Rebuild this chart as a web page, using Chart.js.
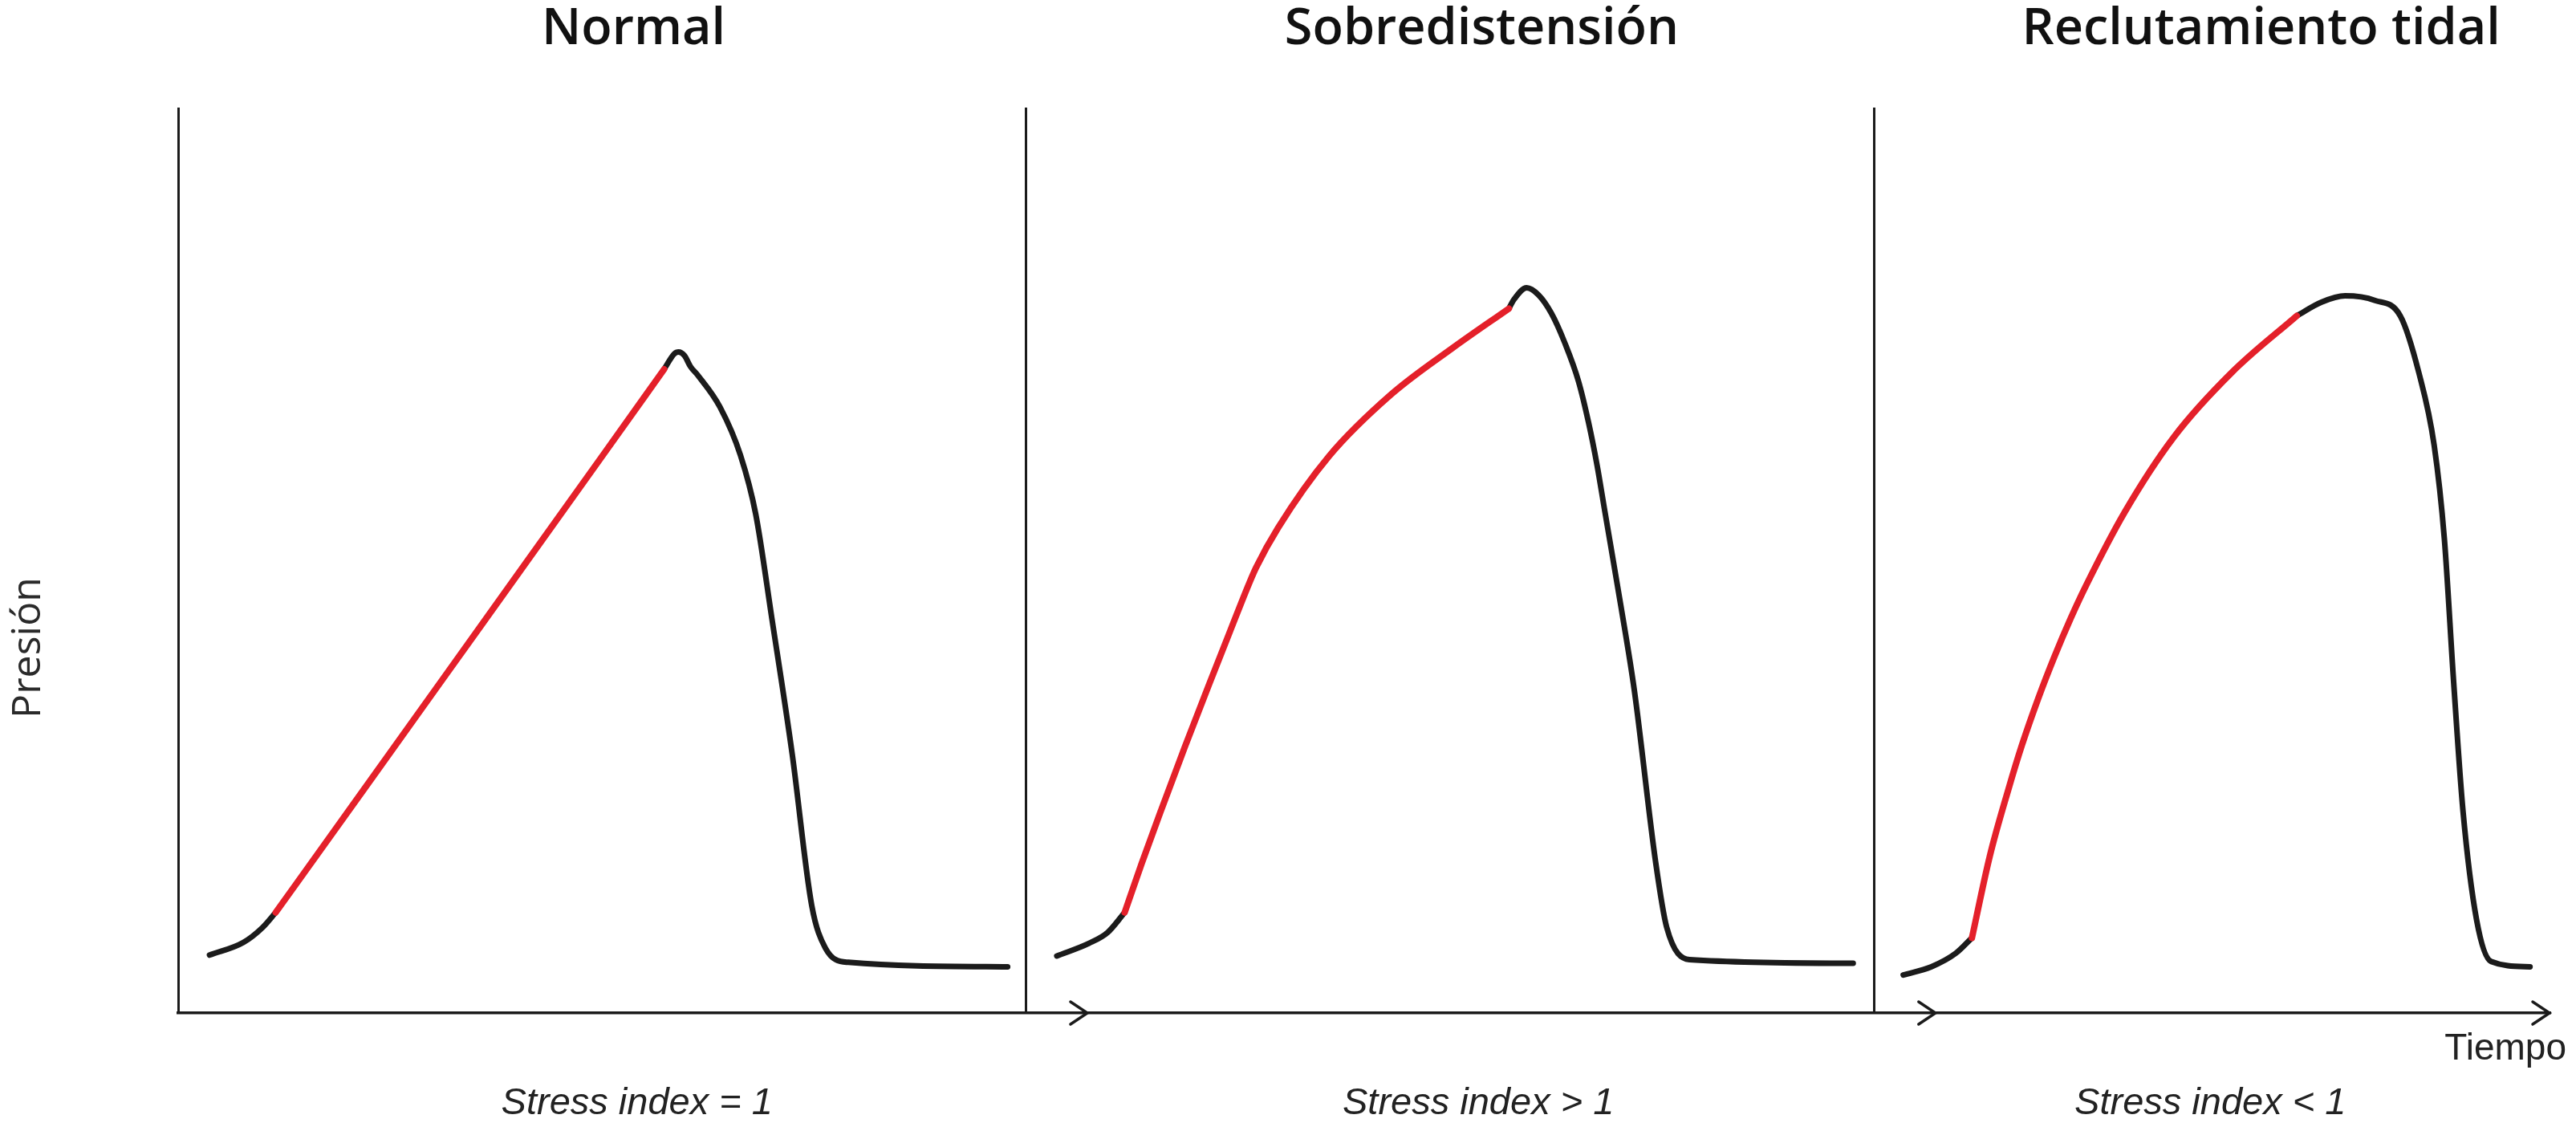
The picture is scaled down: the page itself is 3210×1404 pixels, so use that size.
<!DOCTYPE html>
<html>
<head>
<meta charset="utf-8">
<script src="https://cdn.jsdelivr.net/npm/chart.js@4"></script>
<style>
  html, body { margin: 0; padding: 0; background: #fff; }
  #wrap { width: 3210px; height: 1404px; }
</style>
</head>
<body>
<div id="wrap"><canvas id="stressIndex" width="3210" height="1404"></canvas></div>
<script>
// texts
const panelTitles = ["Normal", "Sobredistensión", "Reclutamiento tidal"];
const stressLabels = ["Stress index = 1", "Stress index > 1", "Stress index < 1"];
const yLabel = "Presión";
const xLabel = "Tiempo";

// time (per panel, 0-100) and pressure (0-100)
const normalTime = [3.7, 7.7, 9.9, 11.5, 21.6, 35.8, 50.0, 57.3, 58.5, 59.0, 59.7, 60.4, 61.3, 63.9, 66.3, 68.1, 70.0, 72.4, 74.7, 76.3, 79.0, 97.8];
const normalPressure = [6.4, 7.8, 9.4, 11.1, 24.3, 42.9, 61.5, 71.1, 72.8, 73.0, 72.6, 71.4, 70.4, 66.9, 61.6, 55.1, 43.6, 28.6, 11.9, 7.2, 5.6, 5.1];
const normalRed = [3, 7];   // first and last point of the red stretch

const overTime = [3.6, 7.4, 9.6, 11.6, 13.6, 15.9, 18.7, 21.6, 24.0, 26.3, 27.1, 29.7, 35.7, 43.0, 50.2, 56.9, 57.5, 59.0, 60.4, 61.9, 63.5, 65.1, 66.3, 67.3, 68.2, 70.1, 71.7, 74.2, 75.5, 78.2, 97.5];
const overPressure = [6.3, 7.7, 8.9, 11.1, 16.5, 22.4, 29.4, 36.4, 42.1, 47.5, 49.2, 53.6, 61.5, 68.3, 73.4, 77.8, 78.8, 80.1, 79.3, 77.3, 74.0, 69.8, 65.2, 60.5, 55.5, 45.0, 35.6, 16.7, 9.5, 5.9, 5.5];
const overRed = [3, 15];

const recruitTime = [3.4, 6.7, 9.6, 11.5, 13.6, 15.8, 17.4, 19.3, 21.2, 23.1, 25.0, 29.5, 35.3, 42.2, 49.8, 52.7, 55.5, 59.0, 62.0, 64.2, 66.0, 67.2, 68.3, 69.4, 71.0, 72.7, 77.3];
const recruitPressure = [4.2, 5.1, 6.6, 8.3, 17.3, 24.7, 29.6, 34.7, 39.3, 43.5, 47.3, 55.3, 63.6, 70.8, 77.0, 78.5, 79.2, 78.7, 77.0, 70.7, 62.7, 52.4, 36.5, 22.3, 10.3, 5.7, 5.1];
const recruitRed = [3, 14];

const panels = [
  { time: normalTime, pressure: normalPressure, red: normalRed },
  { time: overTime, pressure: overPressure, red: overRed },
  { time: recruitTime, pressure: recruitPressure, red: recruitRed },
];

const INK = "#1b1b1b";
const RED = "#e4202a";
const PANEL = 100;           // x units per panel
const X_END = 279.6;         // end of the time arrow
const titleAt = [53.7, 153.7, 245.6];
const stressAt = [54.1, 153.3, 239.6];
const arrowAt = [107.2, 207.2, X_END];

function stretch(p, i, from, to, color, width, order) {
  const pts = [];
  for (let k = from; k <= to; k++) {
    pts.push({ x: i * PANEL + p.time[k], y: p.pressure[k] });
  }
  return {
    data: pts,
    borderColor: color,
    borderWidth: width,
    pointRadius: 0,
    fill: false,
    cubicInterpolationMode: "monotone",
    borderCapStyle: "round",
    borderJoinStyle: "round",
    order: order,
  };
}

const datasets = [];
panels.forEach(function (p, i) {
  const last = p.time.length - 1;
  datasets.push(stretch(p, i, 0, p.red[0], INK, 7, 2));
  datasets.push(stretch(p, i, p.red[1], last, INK, 7, 2));
  datasets.push(stretch(p, i, p.red[0], p.red[1], RED, 8, 1));
});

const decorations = {
  id: "decorations",
  afterDraw: function (chart) {
    const ctx = chart.ctx;
    const xs = chart.scales.x;
    const bottom = chart.chartArea.bottom;
    ctx.save();

    // arrow heads on the time axis
    ctx.strokeStyle = INK;
    ctx.lineWidth = 3.5;
    ctx.lineCap = "round";
    arrowAt.forEach(function (v) {
      const tip = xs.getPixelForValue(v);
      ctx.beginPath();
      ctx.moveTo(tip - 21, bottom - 14);
      ctx.lineTo(tip, bottom);
      ctx.lineTo(tip - 21, bottom + 14);
      ctx.stroke();
    });

    ctx.fillStyle = "#111";
    ctx.textAlign = "center";
    ctx.textBaseline = "alphabetic";
    ctx.font = "600 63px 'Open Sans'";
    panelTitles.forEach(function (t, i) {
      ctx.fillText(t, xs.getPixelForValue(titleAt[i]), 55);
    });

    ctx.fillStyle = "#222";
    ctx.font = "italic 47px 'Liberation Sans'";
    stressLabels.forEach(function (t, i) {
      ctx.fillText(t, xs.getPixelForValue(stressAt[i]), 1388);
    });

    ctx.textAlign = "right";
    ctx.font = "46px 'Liberation Sans'";
    ctx.fillText(xLabel, 3198, 1320);

    ctx.translate(50, 807);
    ctx.rotate(-Math.PI / 2);
    ctx.textAlign = "center";
    ctx.fillStyle = "#2a2a2a";
    ctx.font = "50px 'Open Sans'";
    ctx.fillText(yLabel, 0, 0);
    ctx.restore();
  },
};

new Chart(document.getElementById("stressIndex").getContext("2d"), {
  type: "line",
  data: { datasets: datasets },
  options: {
    responsive: false,
    devicePixelRatio: 1,
    animation: false,
    layout: { padding: { left: 222, right: 33, top: 134, bottom: 142 } },
    plugins: {
      legend: { display: false },
      tooltip: { enabled: false },
    },
    scales: {
      x: {
        type: "linear",
        min: 0,
        max: X_END,
        afterBuildTicks: function (axis) {
          axis.ticks = [{ value: 0 }, { value: PANEL }, { value: 2 * PANEL }];
        },
        ticks: { display: false },
        grid: { color: INK, lineWidth: 3, drawTicks: false },
        border: { display: true, color: INK, width: 3.5 },
      },
      y: {
        display: false,
        min: 0,
        max: 100,
      },
    },
  },
  plugins: [decorations],
});
</script>
</body>
</html>
